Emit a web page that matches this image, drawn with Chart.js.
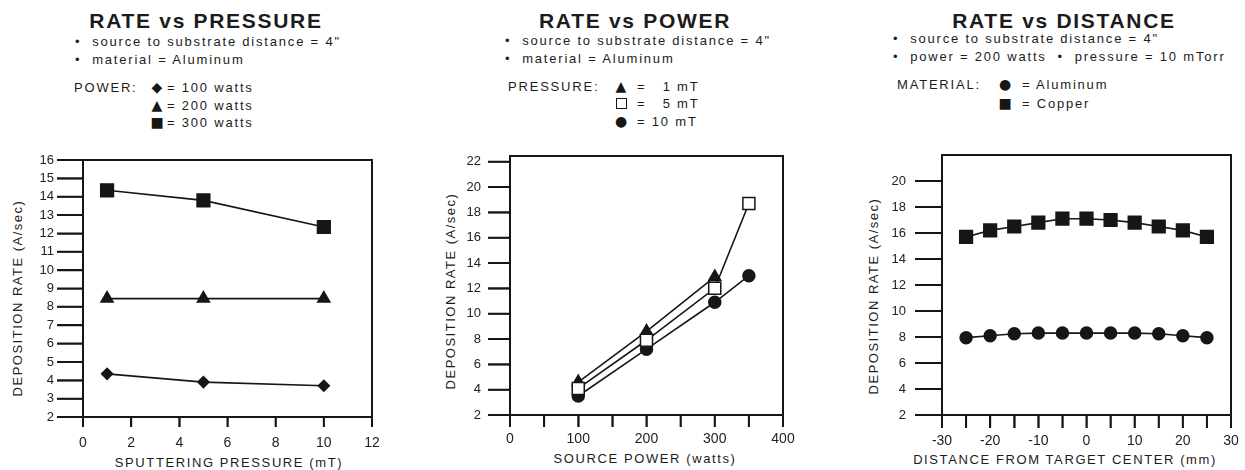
<!DOCTYPE html>
<html>
<head>
<meta charset="utf-8">
<script src="https://cdn.jsdelivr.net/npm/chart.js@4.4.1/dist/chart.umd.min.js"></script>
<style>
  body { margin: 0; background: #fff; }
  #page { position: relative; width: 1245px; height: 470px; overflow: hidden;
          font-family: "Liberation Sans", Arial, sans-serif; color: #1c1c1c; }
  .ttl { position: absolute; top: 10px; width: 400px; text-align: center;
         font-weight: bold; font-size: 21px; line-height: 21px; letter-spacing: 1.7px; }
  .notes { position: absolute; font-size: 13px; line-height: 18px; letter-spacing: 1.8px; white-space: pre; }
  .key { position: absolute; font-size: 13px; line-height: 17.5px; letter-spacing: 1.8px; white-space: pre; }
  .sym { position: absolute; width: 16px; text-align: center; font-family: "DejaVu Sans", sans-serif;
         font-size: 14px; line-height: 17.5px; color: #161616; }
  .box { display: inline-block; width: 9px; height: 9px; border: 1.5px solid #161616; background: #fff;
         vertical-align: -1px; }
  .xt { position: absolute; font-size: 13px; line-height: 13px; letter-spacing: 1.6px;
        white-space: pre; transform: translateX(-50%); }
  .yt { position: absolute; font-size: 13px; line-height: 13px; letter-spacing: 1.5px;
        white-space: pre; transform: translate(-50%, -50%) rotate(-90deg); }
  canvas { position: absolute; top: 140px; }
</style>
</head>
<body>
<div id="page">
  <!-- panel 1 header -->
  <div class="ttl" style="left:6px">RATE vs PRESSURE</div>
  <div class="notes" style="left:75px;top:33px">•  source to substrate distance = 4"
•  material = Aluminum</div>
  <div class="key" style="left:74px;top:79px">POWER:</div>
  <div class="sym" style="left:149px;top:79px">◆</div>
  <div class="sym" style="left:149px;top:96.5px">▲</div>
  <div class="sym" style="left:149px;top:114px">■</div>
  <div class="key" style="left:167px;top:79px">= 100 watts
= 200 watts
= 300 watts</div>

  <!-- panel 2 header -->
  <div class="ttl" style="left:435px">RATE vs POWER</div>
  <div class="notes" style="left:505px;top:31.5px">•  source to substrate distance = 4"
•  material = Aluminum</div>
  <div class="key" style="left:508px;top:77.5px">PRESSURE:</div>
  <div class="sym" style="left:613px;top:77.5px">▲</div>
  <div class="sym" style="left:613px;top:95px"><span class="box"></span></div>
  <div class="sym" style="left:613px;top:112.5px">●</div>
  <div class="key" style="left:637px;top:77.5px">=   1 mT
=   5 mT
= 10 mT</div>

  <!-- panel 3 header -->
  <div class="ttl" style="left:864px">RATE vs DISTANCE</div>
  <div class="notes" style="left:893px;top:30px">•  source to substrate distance = 4"
•  power = 200 watts  •  pressure = 10 mTorr</div>
  <div class="key" style="left:897px;top:75px;line-height:19px">MATERIAL:</div>
  <div class="sym" style="left:997px;top:75px;line-height:19px">●</div>
  <div class="sym" style="left:997px;top:94px;line-height:19px">■</div>
  <div class="key" style="left:1022px;top:75px;line-height:19px">= Aluminum
= Copper</div>

  <!-- axis titles -->
  <div class="yt" style="left:17px;top:298px">DEPOSITION RATE (A/sec)</div>
  <div class="yt" style="left:450px;top:291px">DEPOSITION RATE (A/sec)</div>
  <div class="yt" style="left:873px;top:296px">DEPOSITION RATE (A/sec)</div>
  <div class="xt" style="left:229px;top:456px">SPUTTERING PRESSURE (mT)</div>
  <div class="xt" style="left:645px;top:452px">SOURCE POWER (watts)</div>
  <div class="xt" style="left:1065px;top:453px">DISTANCE FROM TARGET CENTER (mm)</div>

  <canvas id="c1" width="400" height="330" style="left:0px"></canvas>
  <canvas id="c2" width="400" height="330" style="left:420px"></canvas>
  <canvas id="c3" width="405" height="330" style="left:840px"></canvas>
</div>
<script>
// ---- panel 1: rate vs pressure
const pressure = [1, 5, 10];
const rate100W = [4.35, 3.9, 3.7];
const rate200W = [8.45, 8.45, 8.45];
const rate300W = [14.35, 13.8, 12.35];
const pressureTicks = [0, 2, 4, 6, 8, 10, 12];
const rateTicks1 = [2, 3, 4, 5, 6, 7, 8, 9, 10, 11, 12, 13, 14, 15, 16];

// ---- panel 2: rate vs power
const power1mT = [100, 200, 300];
const rate1mT = [4.6, 8.6, 12.9];
const power5mT = [100, 200, 300, 350];
const rate5mT = [4.1, 7.9, 12.0, 18.7];
const power10mT = [100, 200, 300, 350];
const rate10mT = [3.5, 7.2, 10.9, 13.0];
const powerTicks = [0, 50, 100, 150, 200, 250, 300, 350, 400];
const rateTicks2 = [2, 4, 6, 8, 10, 12, 14, 16, 18, 20, 22];

// ---- panel 3: rate vs distance
const distance = [-25, -20, -15, -10, -5, 0, 5, 10, 15, 20, 25];
const aluminumRate = [7.95, 8.1, 8.25, 8.3, 8.3, 8.3, 8.3, 8.3, 8.25, 8.1, 7.95];
const copperRate = [15.7, 16.2, 16.5, 16.8, 17.1, 17.1, 17.0, 16.8, 16.5, 16.2, 15.7];
const distanceTicks = [-30, -25, -20, -15, -10, -5, 0, 5, 10, 15, 20, 25, 30];
const rateTicks3 = [2, 4, 6, 8, 10, 12, 14, 16, 18, 20];

const ink = '#161616';
const fontFam = '"Liberation Sans", Arial, sans-serif';

// box around the plot area
const frame = {
  id: 'frame',
  beforeDatasetsDraw(chart) {
    const { ctx, chartArea: a } = chart;
    ctx.save();
    ctx.strokeStyle = ink;
    ctx.lineWidth = 2;
    ctx.strokeRect(a.left, a.top, a.right - a.left, a.bottom - a.top);
    ctx.restore();
  }
};

// tick marks outside the box (the grid layer gets clipped to the plot area here)
const tickMarks = {
  id: 'tickMarks',
  afterDraw(chart) {
    const { ctx, chartArea: a } = chart;
    const { x, y } = chart.scales;
    ctx.save();
    ctx.strokeStyle = ink;
    ctx.lineWidth = 2;
    ctx.beginPath();
    x.ticks.forEach(t => {
      const px = x.getPixelForValue(t.value);
      ctx.moveTo(px, a.bottom);
      ctx.lineTo(px, a.bottom + x.options.grid.tickLength);
    });
    y.ticks.forEach(t => {
      const py = y.getPixelForValue(t.value);
      ctx.moveTo(a.left, py);
      ctx.lineTo(a.left - y.options.grid.tickLength, py);
    });
    ctx.stroke();
    ctx.restore();
  }
};

const series = (xs, ys, style, radius, fill, order) => ({
  data: xs.map((x, i) => ({ x: x, y: ys[i] })),
  borderColor: ink,
  borderWidth: 1.6,
  pointStyle: style,
  pointRadius: radius,
  pointBorderWidth: 1.5,
  pointBorderColor: ink,
  pointBackgroundColor: fill,
  tension: 0,
  clip: false,
  order: order
});

function makeChart(id, datasets, c) {
  return new Chart(document.getElementById(id), {
    type: 'line',
    data: { datasets: datasets },
    options: {
      responsive: false,
      animation: false,
      events: [],
      layout: { padding: { top: c.top, right: c.right, left: 0, bottom: 0 } },
      plugins: { legend: { display: false }, tooltip: { enabled: false } },
      scales: {
        x: {
          type: 'linear',
          min: c.xTicks[0],
          max: c.xTicks[c.xTicks.length - 1],
          afterBuildTicks: s => { s.ticks = c.xTicks.map(v => ({ value: v })); },
          afterFit: s => { s.height = c.xH; s.paddingLeft = 0; s.paddingRight = 0; },
          grid: { drawOnChartArea: false, tickLength: c.xTick, color: ink, lineWidth: 1.5 },
          border: { display: true, color: ink, width: 2 },
          ticks: {
            autoSkip: false, maxRotation: 0, padding: c.xPad, color: '#222',
            font: { family: fontFam, size: 14 },
            callback: v => (v % c.xLabelStep === 0 ? v : '')
          }
        },
        y: {
          min: c.yTicks[0],
          max: c.yMax,
          afterBuildTicks: s => { s.ticks = c.yTicks.map(v => ({ value: v })); },
          afterFit: s => { s.width = c.yW; s.paddingTop = 0; s.paddingBottom = 0; },
          grid: { drawOnChartArea: false, tickLength: c.yTick, color: ink, lineWidth: 1.5 },
          border: { display: true, color: ink, width: 2 },
          ticks: {
            autoSkip: false, padding: c.yPad, color: '#222',
            font: { family: fontFam, size: 13 }
          }
        }
      }
    },
    plugins: [frame, tickMarks]
  });
}

makeChart('c1', [
  series(pressure, rate300W, 'rect', 9, ink, 0),
  series(pressure, rate200W, 'triangle', 7, ink, 1),
  series(pressure, rate100W, 'rectRot', 5.5, ink, 2)
], { top: 20, right: 28, yW: 83, xH: 53, xTicks: pressureTicks, xLabelStep: 2, xTick: 10, xPad: 8,
     yTicks: rateTicks1, yMax: 16, yTick: 26, yPad: 3 });

makeChart('c2', [
  series(power5mT, rate5mT, 'rect', 8.5, '#fff', 0),
  series(power1mT, rate1mT, 'triangle', 7, ink, 1),
  series(power10mT, rate10mT, 'circle', 6, ink, 2)
], { top: 16, right: 37, yW: 90, xH: 55, xTicks: powerTicks, xLabelStep: 100, xTick: 12, xPad: 4,
     yTicks: rateTicks2, yMax: 22.45, yTick: 22, yPad: 7 });

makeChart('c3', [
  series(distance, copperRate, 'rect', 9, ink, 0),
  series(distance, aluminumRate, 'circle', 6, ink, 1)
], { top: 15, right: 14, yW: 102, xH: 55, xTicks: distanceTicks, xLabelStep: 10, xTick: 13, xPad: 5,
     yTicks: rateTicks3, yMax: 22, yTick: 27, yPad: 9 });
</script>
</body>
</html>
